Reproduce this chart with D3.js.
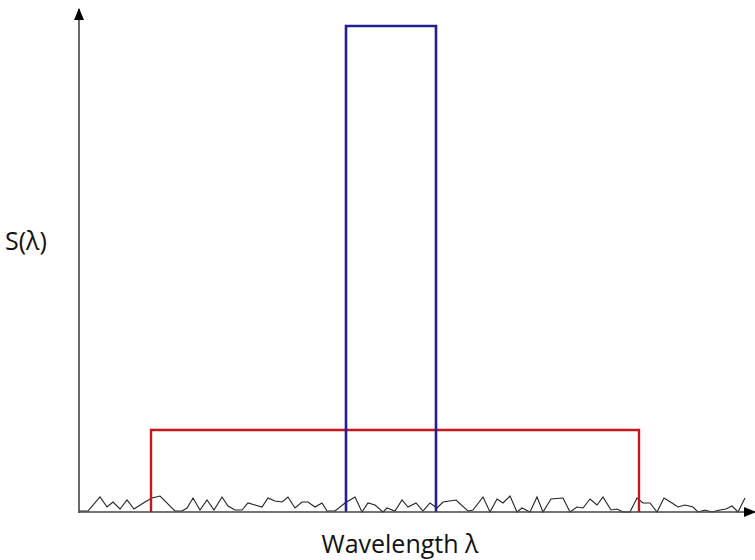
<!DOCTYPE html>
<html>
<head>
<meta charset="utf-8">
<script src="https://cdn.jsdelivr.net/npm/d3@7"></script>
<style>
  body { margin: 0; background: #fff; }
  text { font-family: "Open Sans", "DejaVu Sans", sans-serif; fill: #111; }
</style>
</head>
<body>
<div class="container"></div>
<script>
var w = 755;
var h = 560;

// wavelength axis in arbitrary units, signal S(lambda) in arbitrary units
var xDomain = [0, 673];
var yDomain = [0, 500];

// narrow source (blue) and broad source (red): [start, end, height]
var narrowBand = [267, 357, 486];
var broadBand = [72, 560, 82];

// noise floor
var noiseX = [0, 9, 21, 28, 34, 41, 48, 55, 66, 73, 81, 96, 103, 108, 114, 121, 128, 135, 143, 149,
  156, 163, 169, 176, 183, 189, 196, 203, 209, 216, 223, 229, 236, 243, 248, 256, 266, 276, 283, 289,
  296, 304, 308, 316, 323, 329, 337, 344, 351, 358, 364, 377, 389, 394, 404, 411, 418, 424, 431, 438,
  443, 451, 458, 464, 472, 484, 491, 498, 504, 511, 518, 524, 532, 538, 544, 551, 558, 564, 571, 578,
  585, 593, 599, 606, 614, 619, 626, 633, 641, 647, 653, 659, 666];
var noiseY = [1, 1, 15, 5, 10, 3, 12, 3, 10, 14, 16, 1, 1, 4, 14, 2, 12, 2, 15, 6,
  2, 2, 9, 7, 5, 14, 11, 10, 15, 4, 10, 10, 5, 9, 1, 1, 9, 15, 0, 9,
  7, 0, 4, 1, 12, 5, 9, 1, 9, 4, 10, 12, 1, 2, 15, 0, 13, 9, 16, 0,
  4, 0, 15, 0, 13, 14, 0, 5, 4, 13, 7, 15, 2, 3, 0, 0, 14, 9, 9, 0,
  14, 9, 5, 7, 5, 0, 2, 0, 2, 3, 6, 0, 14];

var xLabel = "Wavelength \u03bb";
var yLabel = "S(\u03bb)";

var svg = d3.select('.container')
  .append('svg')
  .attr('width', w)
  .attr('height', h);

var x = d3.scaleLinear().domain(xDomain).range([79, 752]);
var y = d3.scaleLinear().domain(yDomain).range([512, 12]);

var defs = svg.append('defs');
defs.append('marker')
  .attr('id', 'arrow')
  .attr('viewBox', '0 0 12 10')
  .attr('refX', 11)
  .attr('refY', 5)
  .attr('markerWidth', 12)
  .attr('markerHeight', 10)
  .attr('markerUnits', 'userSpaceOnUse')
  .attr('orient', 'auto')
  .append('path')
  .attr('d', 'M0,0 L12,5 L0,10 Z')
  .style('fill', '#000');

var line = d3.line().x(d => x(d[0])).y(d => y(d[1]));

// noise
var noise = noiseX.map((v, i) => [v, noiseY[i]]);
svg.append('path')
  .attr('d', line(noise))
  .style('fill', 'none')
  .style('stroke', '#222')
  .style('stroke-width', 1.1);

// broad band
svg.append('path')
  .attr('d', line([[broadBand[0], 0], [broadBand[0], broadBand[2]], [broadBand[1], broadBand[2]], [broadBand[1], 0]]))
  .style('fill', 'none')
  .style('stroke', '#c4161c')
  .style('stroke-width', 2.4);

// narrow band
svg.append('path')
  .attr('d', line([[narrowBand[0], 0], [narrowBand[0], narrowBand[2]], [narrowBand[1], narrowBand[2]], [narrowBand[1], 0]]))
  .style('fill', 'none')
  .style('stroke', '#221e94')
  .style('stroke-width', 2.6);

// axes
svg.append('line')
  .attr('x1', x(0)).attr('y1', y(0) + 1)
  .attr('x2', x(0)).attr('y2', y(yDomain[1]) - 3)
  .style('stroke', '#444')
  .style('stroke-width', 1.6)
  .attr('marker-end', 'url(#arrow)');

svg.append('line')
  .attr('x1', x(0)).attr('y1', y(0))
  .attr('x2', x(xDomain[1]) + 3).attr('y2', y(0))
  .style('stroke', '#444')
  .style('stroke-width', 1.6)
  .attr('marker-end', 'url(#arrow)');

svg.append('text')
  .attr('x', 5)
  .attr('y', 250)
  .style('font-size', '25px')
  .text(yLabel);

svg.append('text')
  .attr('x', 400)
  .attr('y', 553)
  .attr('text-anchor', 'middle')
  .style('font-size', '25px')
  .text(xLabel);
</script>
</body>
</html>
